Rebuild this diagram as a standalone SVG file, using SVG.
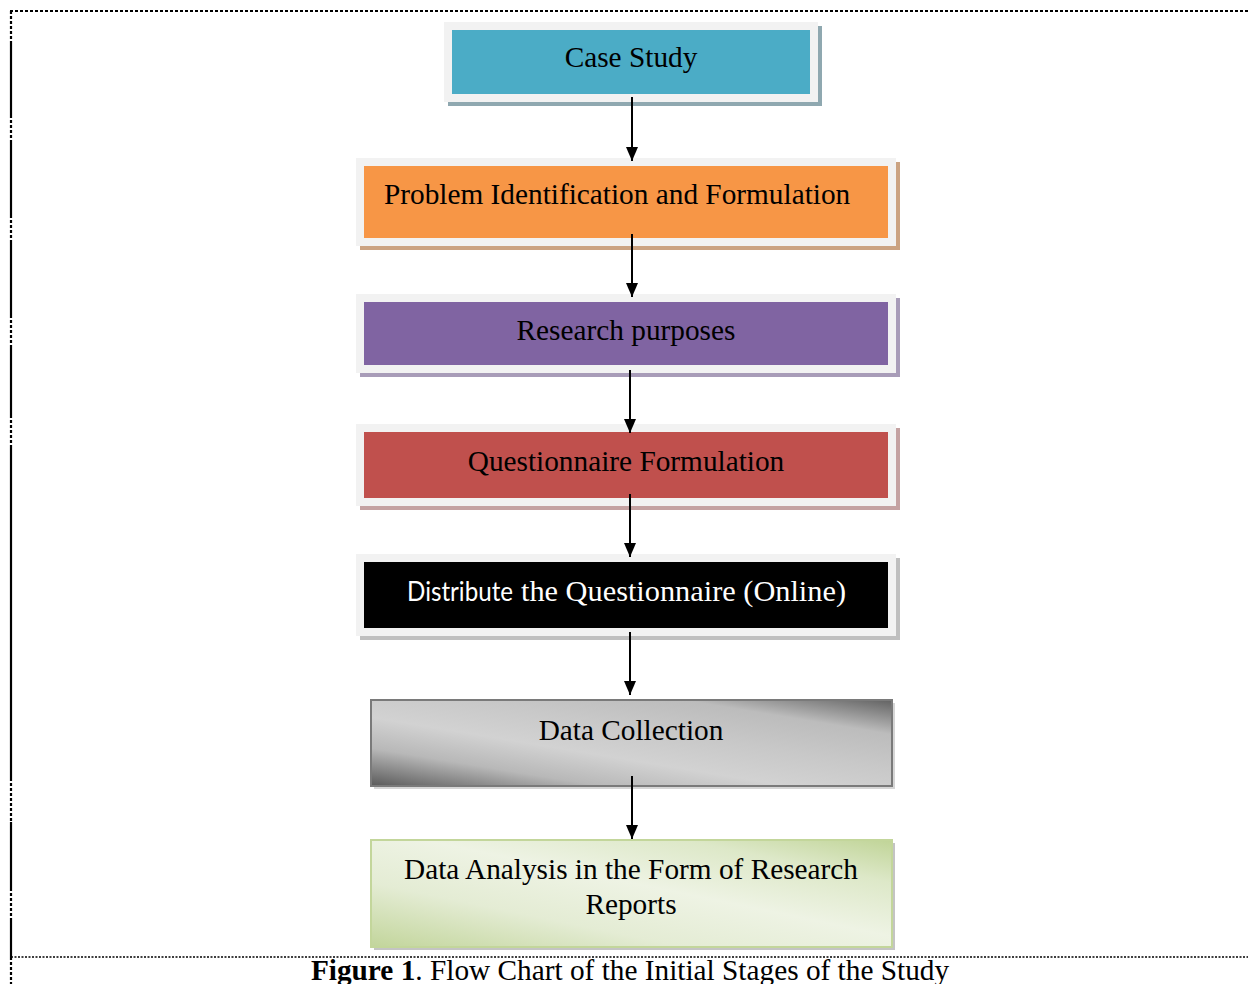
<svg xmlns="http://www.w3.org/2000/svg" width="1248" height="984" viewBox="0 0 1248 984">
<style>
.t{font-family:"Liberation Serif","Times New Roman",serif;font-size:29.3px;fill:#000}
.frame{fill:#f2f2f2}
.dot{stroke:#000;stroke-width:2.2;stroke-dasharray:3 2;fill:none}
.sol{stroke:#000;stroke-width:2.2;fill:none}
.conn line{stroke:#000;stroke-width:2}
</style>
<defs>
<marker id="ah" viewBox="0 0 14 12" refX="14" refY="6" markerWidth="14" markerHeight="12" markerUnits="userSpaceOnUse" orient="auto">
<path d="M0,0 L14,6 L0,12 Z" fill="#000"/>
</marker>
<linearGradient id="silver" x1="0" y1="1" x2="1" y2="0">
<stop offset="0" stop-color="#5a5a5a"/>
<stop offset="0.22" stop-color="#b8b8b8"/>
<stop offset="0.4" stop-color="#d2d2d2"/>
<stop offset="0.6" stop-color="#c8c8c8"/>
<stop offset="0.8" stop-color="#bcbcbc"/>
<stop offset="1" stop-color="#626262"/>
</linearGradient>
<linearGradient id="green" x1="0" y1="1" x2="1" y2="0">
<stop offset="0" stop-color="#c2d59b"/>
<stop offset="0.3" stop-color="#e4ecd4"/>
<stop offset="0.55" stop-color="#eef3e4"/>
<stop offset="0.8" stop-color="#dde8c8"/>
<stop offset="1" stop-color="#c0d497"/>
</linearGradient>
</defs>
<rect width="1248" height="984" fill="#fff"/>
<g id="border">
<line class="dot" x1="10" y1="11" x2="1248" y2="11"/>
<line class="dot" x1="11" y1="11" x2="11" y2="43"/>
<line class="sol" x1="11" y1="43" x2="11" y2="115"/>
<line class="dot" x1="11" y1="115" x2="11" y2="143"/>
<line class="sol" x1="11" y1="143" x2="11" y2="215"/>
<line class="dot" x1="11" y1="215" x2="11" y2="243"/>
<line class="sol" x1="11" y1="243" x2="11" y2="315"/>
<line class="dot" x1="11" y1="315" x2="11" y2="345"/>
<line class="sol" x1="11" y1="345" x2="11" y2="415"/>
<line class="dot" x1="11" y1="415" x2="11" y2="445"/>
<line class="sol" x1="11" y1="445" x2="11" y2="778"/>
<line class="dot" x1="11" y1="778" x2="11" y2="822"/>
<line class="sol" x1="11" y1="822" x2="11" y2="888"/>
<line class="dot" x1="11" y1="888" x2="11" y2="918"/>
<line class="sol" x1="11" y1="918" x2="11" y2="957"/>
<line class="dot" x1="11" y1="957" x2="11" y2="984"/>
<line x1="11" y1="957" x2="1248" y2="957" stroke="#000" stroke-width="1.5" stroke-dasharray="2 1.5"/>
</g>
<g id="n1">
<rect x="448" y="26" width="374" height="80" fill="#8fa8b0"/>
<rect class="frame" x="444" y="22" width="374" height="80"/>
<rect x="452" y="30" width="358" height="64" fill="#4bacc6"/>
<text class="t" x="631" y="67" text-anchor="middle">Case Study</text>
</g>
<g id="n2">
<rect x="360" y="162" width="540" height="88" fill="#cba382"/>
<rect class="frame" x="356" y="158" width="540" height="88"/>
<rect x="364" y="166" width="524" height="72" fill="#f79646"/>
<text class="t" x="384" y="204">Problem Identification and Formulation</text>
</g>
<g id="n3">
<rect x="360" y="298" width="540" height="79" fill="#a89cb8"/>
<rect class="frame" x="356" y="294" width="540" height="79"/>
<rect x="364" y="302" width="524" height="63" fill="#8064a2"/>
<text class="t" x="626" y="340" text-anchor="middle">Research purposes</text>
</g>
<g id="n4">
<rect x="360" y="428" width="540" height="82" fill="#c4a2a2"/>
<rect class="frame" x="356" y="424" width="540" height="82"/>
<rect x="364" y="432" width="524" height="66" fill="#c0504d"/>
<text class="t" x="626" y="471" text-anchor="middle">Questionnaire Formulation</text>
</g>
<g id="n5">
<rect x="360" y="558" width="540" height="82" fill="#bfbfbf"/>
<rect class="frame" x="356" y="554" width="540" height="82"/>
<rect x="364" y="562" width="524" height="66" fill="#000"/>
<text x="407" y="601" font-family="Lato,'Open Sans',sans-serif" font-size="27" fill="#fff" textLength="106" lengthAdjust="spacingAndGlyphs">Distribute</text>
<text class="t" x="521" y="601" style="fill:#fff" textLength="325" lengthAdjust="spacingAndGlyphs">the Questionnaire (Online)</text>
</g>
<g id="n6">
<rect x="374" y="703" width="521" height="86" fill="#d6d6d6"/>
<rect x="371" y="700" width="521" height="86" fill="url(#silver)" stroke="#7a7a7a" stroke-width="2"/>
<text class="t" x="631" y="740" text-anchor="middle">Data Collection</text>
</g>
<g id="n7">
<rect x="374" y="843" width="521" height="107" fill="#c4c4c4"/>
<rect x="371" y="840" width="521" height="107" fill="url(#green)" stroke="#c3d69b" stroke-width="2"/>
<text class="t" x="631" y="879" text-anchor="middle">Data Analysis in the Form of Research</text>
<text class="t" x="631" y="914" text-anchor="middle">Reports</text>
</g>
<g id="connectors" class="conn">
<line x1="632" y1="97" x2="632" y2="161" marker-end="url(#ah)"/>
<line x1="632" y1="234" x2="632" y2="297" marker-end="url(#ah)"/>
<line x1="630" y1="370" x2="630" y2="433" marker-end="url(#ah)"/>
<line x1="630" y1="494" x2="630" y2="557" marker-end="url(#ah)"/>
<line x1="630" y1="632" x2="630" y2="695" marker-end="url(#ah)"/>
<line x1="632" y1="776" x2="632" y2="839" marker-end="url(#ah)"/>
</g>
<g id="caption">
<text class="t" x="630" y="980" text-anchor="middle"><tspan font-weight="bold">Figure 1</tspan>. Flow Chart of the Initial Stages of the Study</text>
</g>
</svg>
